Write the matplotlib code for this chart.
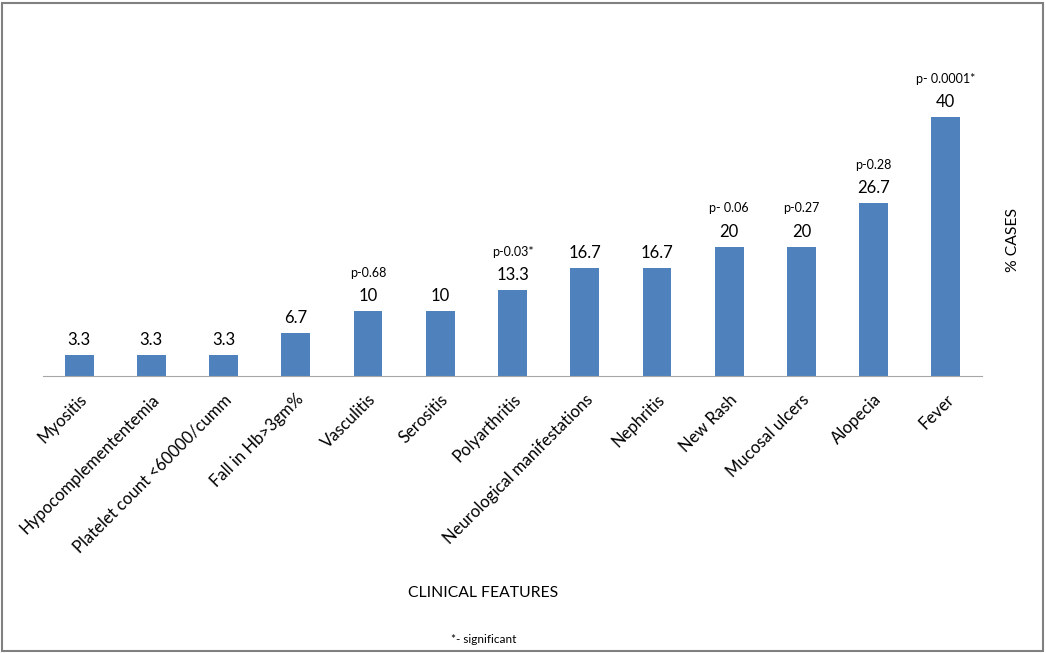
import numpy as np
import matplotlib.pyplot as plt
from matplotlib.patches import Rectangle

plt.rcParams['font.family'] = ['Lato', 'DejaVu Sans']

features = ['Myositis', 'Hypocomplemententemia', 'Platelet count <60000/cumm',
            'Fall in Hb>3gm%', 'Vasculitis', 'Serositis', 'Polyarthritis',
            'Neurological manifestations', 'Nephritis', 'New Rash',
            'Mucosal ulcers', 'Alopecia', 'Fever']
percent = [3.3, 3.3, 3.3, 6.7, 10, 10, 13.3, 16.7, 16.7, 20, 20, 26.7, 40]
value_text = ['3.3', '3.3', '3.3', '6.7', '10', '10', '13.3', '16.7', '16.7',
              '20', '20', '26.7', '40']
p_values = ['', '', '', '', 'p-0.68', '', 'p-0.03*', '', '', 'p- 0.06',
            'p-0.27', 'p-0.28', 'p- 0.0001*']

fig = plt.figure(figsize=(10.46, 6.53), dpi=100)
ax = fig.add_axes([0.0411, 0.4242, 0.8977, 0.4457])

x = np.arange(len(features))
ax.bar(x, percent, width=0.4, color='#4F81BD')
ax.set_xlim(-0.5, len(features) - 0.5)
ax.set_ylim(0, 45)

for xi, v, t, p in zip(x, percent, value_text, p_values):
    ax.text(xi, v + 1.1, t, ha='center', va='bottom', fontsize=12, color='black')
    if p:
        ax.text(xi, v + 5.0, p, ha='center', va='bottom', fontsize=9, color='black')

ax.set_xticks(x)
ax.set_xticklabels(features, rotation=45, ha='right', rotation_mode='anchor',
                   fontsize=12)
ax.tick_params(axis='x', length=0, pad=11)
ax.set_yticks([])
for s in ['top', 'right', 'left']:
    ax.spines[s].set_visible(False)
ax.spines['bottom'].set_color('#A6A6A6')

fig.text(0.968, 0.632, '% CASES', rotation=90, ha='center', va='center', fontsize=11.3)
fig.text(0.462, 0.092, 'CLINICAL FEATURES', ha='center', va='center', fontsize=11.3)
fig.text(0.462, 0.020, '*- significant', ha='center', va='center', fontsize=8.5)

fig.patches.append(Rectangle((0.002, 0.003), 0.995, 0.993, transform=fig.transFigure,
                             fill=False, edgecolor='#808080', linewidth=1.5))

plt.savefig('out.png', dpi=100)
